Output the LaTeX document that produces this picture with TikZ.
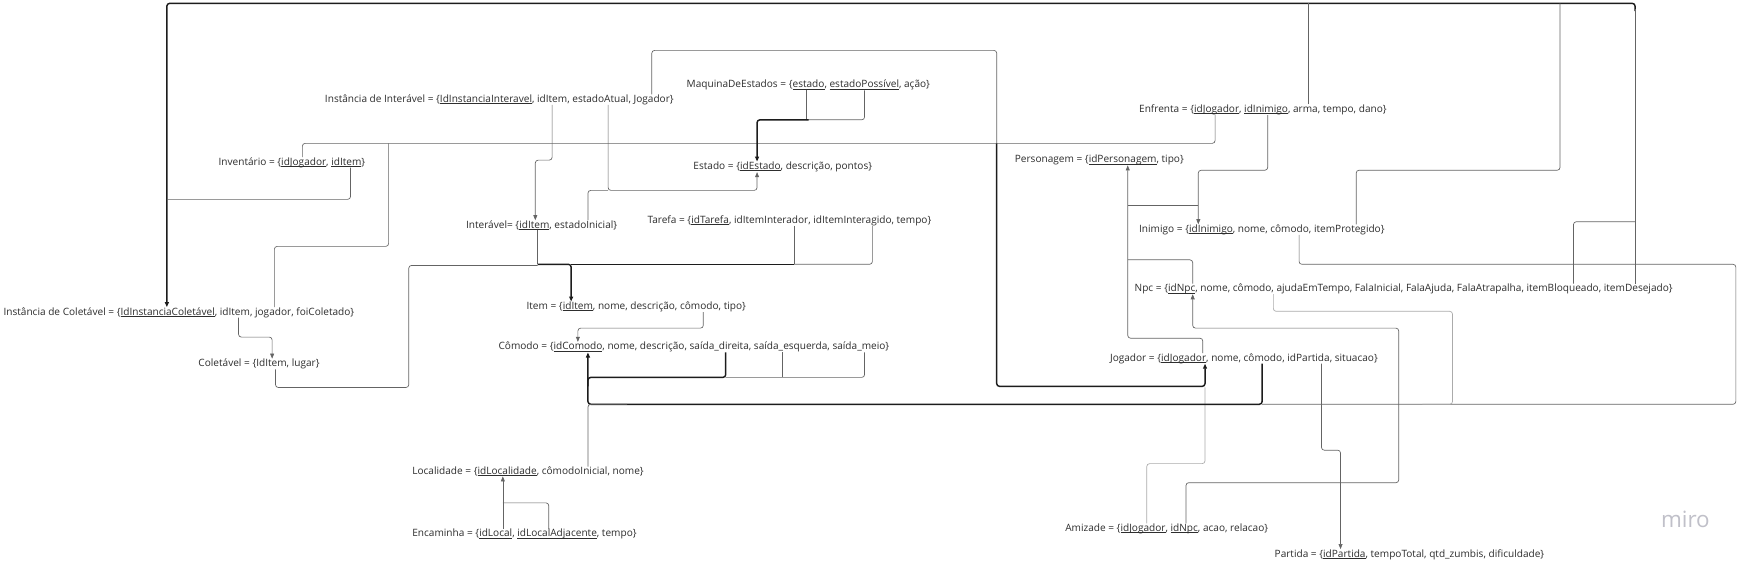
\documentclass[tikz,border=0pt]{standalone}
\usepackage{fontspec}
\setmainfont{Open Sans}
\usepackage{xcolor}
\usepackage{tikz}
\usetikzlibrary{arrows.meta}

\definecolor{txtgray}{HTML}{2E2E2E}
\definecolor{linegray}{HTML}{646464}
\definecolor{lineblack}{HTML}{1C1C1C}
\definecolor{faintgray}{HTML}{ABABAB}
\definecolor{mirogray}{HTML}{C0C0C9}

% chave sublinhada
\newcommand{\pk}[1]{{\setbox0=\hbox{#1}\rlap{\rule[-1.3pt]{\wd0}{0.45pt}}\box0}}

\tikzset{
  rel/.style={anchor=west, inner sep=0pt, text=txtgray, font=\fontsize{9}{10}\selectfont},
  fk/.style={draw=linegray, line width=0.6pt, rounded corners=2.5pt},
  fkmain/.style={draw=lineblack, line width=1.3pt, rounded corners=2.5pt},
  fklight/.style={draw=faintgray, line width=0.6pt, rounded corners=2.5pt},
  tip/.style={-{Triangle[length=4.5pt,width=3.5pt]}},
}

\begin{document}
\begin{tikzpicture}[x=1pt, y=-1pt]
\useasboundingbox[fill=white] (0,0) rectangle (1568,508);
\begin{scope}
    % tabelas
    \node[rel] (instint) at (290,89) {Instância de Interável = \{\pk{IdInstanciaInteravel}, idItem, estadoAtual, Jogador\}};
    \node[rel] (maq) at (613,76) {MaquinaDeEstados = \{\pk{estado}, \pk{estadoPossível}, ação\}};
    \node[rel] (enf) at (1017,98) {Enfrenta = \{\pk{idJogador}, \pk{idInimigo}, arma, tempo, dano\}};
    \node[rel] (inv) at (195,145) {Inventário = \{\pk{idJogador}, \pk{idItem}\}};
    \node[rel] (estado) at (619,149) {Estado = \{\pk{idEstado}, descrição, pontos\}};
    \node[rel] (pers) at (906,143) {Personagem = \{\pk{idPersonagem}, tipo\}};
    \node[rel] (interav) at (416,201) {Interável= \{\pk{idItem}, estadoInicial\}};
    \node[rel] (tarefa) at (578,197) {Tarefa = \{\pk{idTarefa}, idItemInterador, idItemInteragido, tempo\}};
    \node[rel] (inimigo) at (1017,205) {Inimigo = \{\pk{idInimigo}, nome, cômodo, itemProtegido\}};
    \node[rel] (instcol) at (3,279) {Instância de Coletável = \{\pk{IdInstanciaColetável}, idItem, jogador, foiColetado\}};
    \node[rel] (item) at (470,274) {Item = \{\pk{idItem}, nome, descrição, cômodo, tipo\}};
    \node[rel] (npc) at (1013,258) {Npc = \{\pk{idNpc}, nome, cômodo, ajudaEmTempo, FalaInicial, FalaAjuda, FalaAtrapalha, itemBloqueado, itemDesejado\}};
    \node[rel] (comodo) at (445,310) {Cômodo = \{\pk{idComodo}, nome, descrição, saída\_direita, saída\_esquerda, saída\_meio\}};
    \node[rel] (colet) at (177,325) {Coletável = \{IdItem, lugar\}};
    \node[rel] (jog) at (991,320) {Jogador = \{\pk{idJogador}, nome, cômodo, idPartida, situacao\}};
    \node[rel] (local) at (368,421) {Localidade = \{\pk{idLocalidade}, cômodoInicial, nome\}};
    \node[rel] (encam) at (368,477) {Encaminha = \{\pk{idLocal}, \pk{idLocalAdjacente}, tempo\}};
    \node[rel] (amiz) at (951,472) {Amizade = \{\pk{idJogador}, \pk{idNpc}, acao, relacao\}};
    \node[rel] (partida) at (1138,495) {Partida = \{\pk{idPartida}, tempoTotal, qtd\_zumbis, dificuldade\}};
    \node[anchor=west, inner sep=0pt, text=mirogray, font=\fontsize{20}{22}\selectfont] (miro) at (1483,464) {miro};

    % barramento de cima
    \draw[fkmain, tip] (1460,10) -- (1460,3) -- (149,3) -- (instcol.north -| 149,0);
    \draw[fk] (npc.north -| 1460,0) -- (1460,8);
    \draw[fk] (npc.north -| 1405,0) -- (1405,198) -- (1460,198);
    \draw[fk] (enf.north -| 1168,0) -- (1168,3);
    \draw[fk] (inimigo.north -| 1211,0) -- (1211,152) -- (1393,152) -- (1393,3);
    \draw[fk] (inv.south -| 313,0) -- (313,178) -- (149,178);

    % jogador
    \draw[fk] (inv.north -| 270,0) -- (270,128) -- (890,128);
    \draw[fk] (enf.south -| 1085,0) -- (1085,128) -- (890,128);
    \draw[fk] (instint.north -| 582,0) -- (582,45) -- (890,45) -- (890,128);
    \draw[fkmain, tip] (890,128) -- (890,345) -- (1076,345) -- (jog.south -| 1076,0);
    \draw[fk] (instcol.north -| 245,0) -- (245,220) -- (347,220) -- (347,128);
    \draw[fklight] (amiz.north -| 1024,0) -- (1024,414) -- (1076,414) -- (1076,346);

    % estado
    \draw[fk] (maq.south -| 772,0) -- (772,107) -- (720,107);
    \draw[fk] (maq.south -| 720,0) -- (720,107);
    \draw[fkmain, tip] (722,107) -- (676,107) -- (estado.north -| 676,0);
    \draw[fk, tip] (instint.south -| 543,0) -- (543,170) -- (676,170) -- (estado.south -| 676,0);
    \draw[fk] (interav.north -| 525,0) -- (525,170) -- (543,170);

    % item
    \draw[fk, tip] (instint.south -| 493,0) -- (493,143) -- (478,143) -- (interav.north -| 478,0);
    \draw[fk] (interav.south -| 480,0) -- (480,236);
    \draw[fkmain, tip] (480,236) -- (510,236) -- (item.north -| 510,0);
    \draw[fk] (tarefa.south -| 779,0) -- (779,236) -- (709,236);
    \draw[fk] (tarefa.south -| 709,0) -- (709,236);
    \draw[fkmain] (709,236) -- (510,236);
    \draw[fk] (colet.south -| 246,0) -- (246,346) -- (365,346) -- (365,237) -- (480,237);
    \draw[fk, tip] (instcol.south -| 213,0) -- (213,301) -- (243,301) -- (colet.north -| 243,0);

    % comodo
    \draw[fk, tip] (item.south -| 628,0) -- (628,293) -- (516,293) -- (comodo.north -| 516,0);
    \draw[fkmain, tip] (jog.south -| 1127,0) -- (1127,361) -- (525,361) -- (comodo.south -| 525,0);
    \draw[fk] (local.north -| 525,0) -- (525,361) -- (560,361);
    \draw[fk] (comodo.south -| 772,0) -- (772,337) -- (648,337);
    \draw[fk] (comodo.south -| 699,0) -- (699,337);
    \draw[fkmain] (comodo.south -| 648,0) -- (648,337) -- (525,337) -- (525,345);
    \draw[fk] (inimigo.south -| 1160,0) -- (1160,236) -- (1550,236) -- (1550,361) -- (1127,361);
    \draw[fklight] (npc.south -| 1137,0) -- (1137,278) -- (1297,278) -- (1297,361) -- (1270,361);

    % personagem, inimigo, npc, partida
    \draw[fk, tip] (jog.north -| 1074,0) -- (1074,302) -- (1007,302) -- (pers.south -| 1007,0);
    \draw[fk] (npc.north -| 1065,0) -- (1065,232) -- (1007,232);
    \draw[fk] (1070,183) -- (1007,183);
    \draw[fk, tip] (enf.south -| 1132,0) -- (1132,152) -- (1070,152) -- (inimigo.north -| 1070,0);
    \draw[fk, tip] (amiz.north -| 1059,0) -- (1059,431) -- (1249,431) -- (1249,293) -- (1065,293) -- (npc.south -| 1065,0);
    \draw[fk, tip] (jog.south -| 1180,0) -- (1180,402) -- (1197,402) -- (partida.north -| 1197,0);

    % localidade
    \draw[fk, tip] (encam.north -| 449,0) -- (local.south -| 449,0);
    \draw[fk] (encam.north -| 490,0) -- (490,449) -- (449,449);
\end{scope}
\end{tikzpicture}
\end{document}
